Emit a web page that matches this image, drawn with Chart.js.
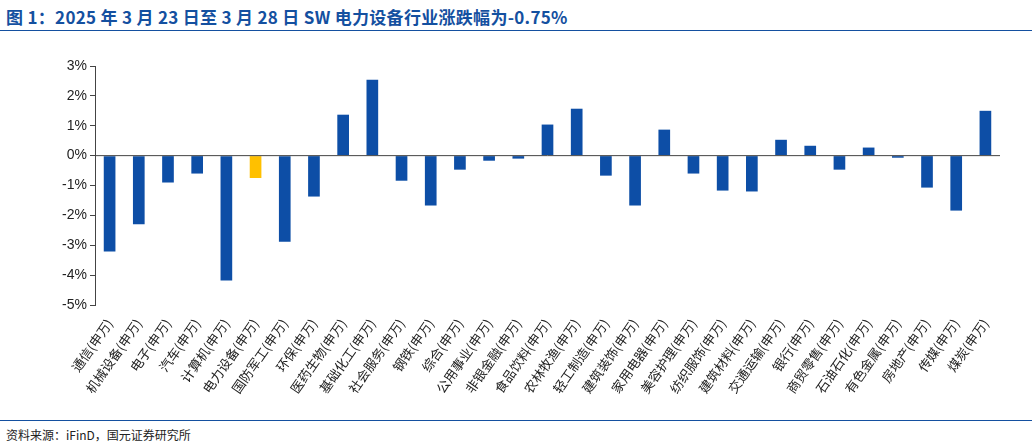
<!DOCTYPE html>
<html><head><meta charset="utf-8">
<script src="https://cdn.jsdelivr.net/npm/chart.js@4"></script>
<style>
body{margin:0;width:1032px;height:448px;background:#fff;font-family:"Noto Sans CJK SC",sans-serif;position:relative;overflow:hidden}
#t{position:absolute;left:6px;top:4px;font-size:17px;font-weight:bold;color:#1450a0;letter-spacing:0.3px}
#l1{position:absolute;left:0;top:30px;width:1032px;border-top:1px solid #1450a0}
#l2{position:absolute;left:0;top:420px;width:1032px;border-top:1px solid #1450a0}
#f{position:absolute;left:6px;top:426px;font-size:12px;color:#222}
#c{position:absolute;left:0;top:40px}
</style></head><body>
<div id="t">图 1：2025 年 3 月 23 日至 3 月 28 日 SW 电力设备行业涨跌幅为-0.75%</div>
<div id="l1"></div>
<div id="c"><canvas id="cv" width="1032" height="380"></canvas></div>
<div id="l2"></div>
<div id="f">资料来源：iFinD，国元证券研究所</div>
<script>
const categories=["通信(申万)","机械设备(申万)","电子(申万)","汽车(申万)","计算机(申万)","电力设备(申万)","国防军工(申万)","环保(申万)","医药生物(申万)","基础化工(申万)","社会服务(申万)","钢铁(申万)","综合(申万)","公用事业(申万)","非银金融(申万)","食品饮料(申万)","农林牧渔(申万)","轻工制造(申万)","建筑装饰(申万)","家用电器(申万)","美容护理(申万)","纺织服饰(申万)","建筑材料(申万)","交通运输(申万)","银行(申万)","商贸零售(申万)","石油石化(申万)","有色金属(申万)","房地产(申万)","传媒(申万)","煤炭(申万)"];
const values=[-3.21,-2.3,-0.9,-0.6,-4.18,-0.75,-2.88,-1.37,1.37,2.54,-0.84,-1.67,-0.47,-0.17,-0.1,1.04,1.57,-0.67,-1.67,0.87,-0.6,-1.17,-1.2,0.53,0.33,-0.47,0.27,-0.07,-1.07,-1.84,1.5];
const highlight="电力设备(申万)";
new Chart(document.getElementById('cv'),{type:'bar',
data:{labels:categories,datasets:[{data:values,backgroundColor:categories.map(c=>c===highlight?'#ffc000':'#0d4ea6'),barPercentage:0.4,categoryPercentage:1}]},
options:{responsive:false,animation:false,layout:{padding:{left:40,right:32,top:26,bottom:0}},
plugins:{legend:{display:false},tooltip:{enabled:false}},
scales:{
x:{afterFit(s){s.height=115;},grid:{display:false},border:{display:false},ticks:{color:'#222',font:{size:13,family:'"Noto Sans CJK SC"'},maxRotation:55,minRotation:55,autoSkip:false}},
y:{afterFit(s){s.width=55;},min:-5,max:3,ticks:{stepSize:1,color:'#222',font:{size:14,family:'Liberation Sans'},callback:v=>v+'%'},grid:{drawOnChartArea:false,color:'#444',tickLength:5},border:{color:'#444'}}
}},
plugins:[{id:'zero',afterDatasetsDraw(ch){const y=ch.scales.y.getPixelForValue(0),a=ch.chartArea,c=ch.ctx;c.save();c.strokeStyle='#444';c.beginPath();c.moveTo(a.left,y);c.lineTo(a.right,y);c.stroke();c.restore();}}]
});
</script></body></html>
